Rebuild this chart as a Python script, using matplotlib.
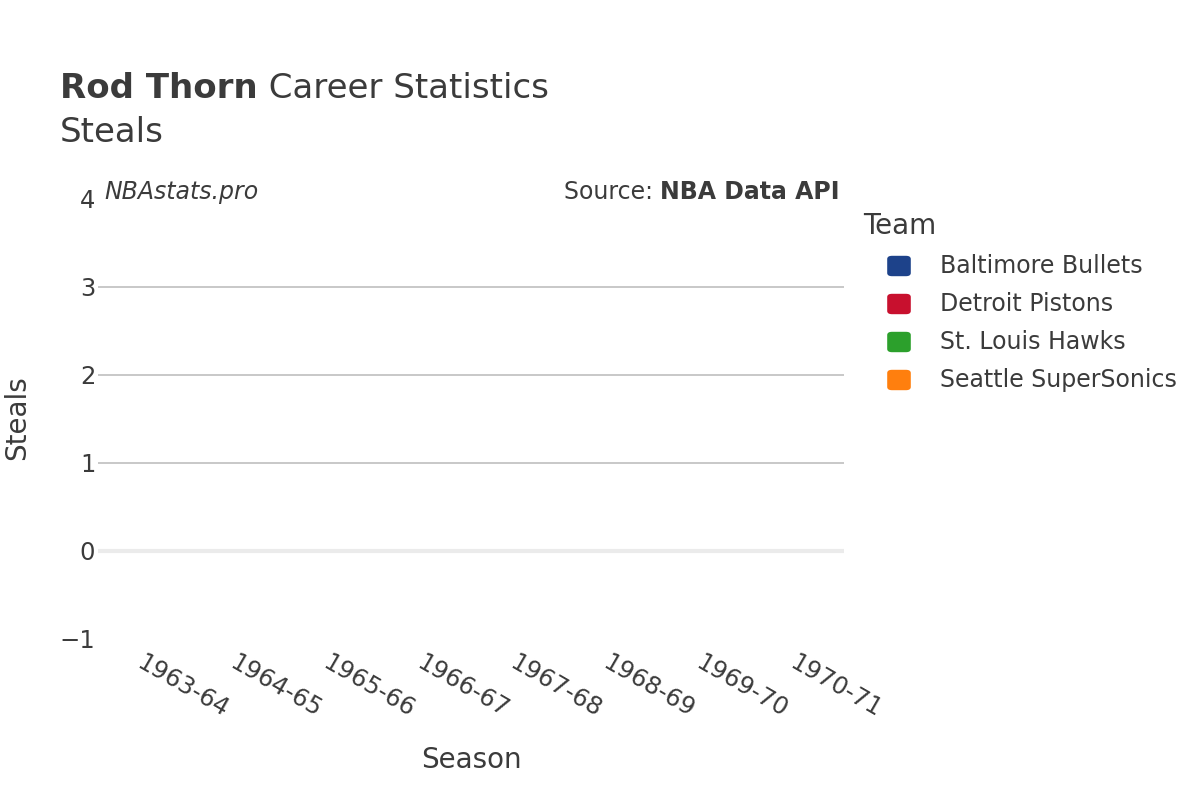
import matplotlib
matplotlib.use("Agg")
import matplotlib.pyplot as plt
from matplotlib.patches import FancyBboxPatch
import numpy as np

plt.rcParams["font.family"] = ["DejaVu Sans"]

seasons = ["1963-64", "1964-65", "1965-66", "1966-67", "1967-68", "1968-69", "1969-70", "1970-71"]
teams = ["Baltimore Bullets", "Detroit Pistons", "St. Louis Hawks", "Seattle SuperSonics"]
team_colors = ["#1d428a", "#c8102e", "#2ca02c", "#ff7f0e"]
# Steals were not recorded in these seasons: no values are drawn
steals = {t: [np.nan] * len(seasons) for t in teams}
y_ticks = [-1, 0, 1, 2, 3, 4]

W, H = 1200, 800
TXT = "#3b3b3b"
fig = plt.figure(figsize=(12, 8), dpi=100)
fig.patch.set_facecolor("white")

def fx(px):
    return px / W

def fy(py):
    return 1 - py / H

ax = fig.add_axes([fx(98), fy(639), fx(844) - fx(98), fy(199) - fy(639)])
ax.set_xlim(-0.5, len(seasons) - 0.5)
ax.set_ylim(-1, 4)
for t, c in zip(teams, team_colors):
    ax.plot(range(len(seasons)), steals[t], color=c)

for s in ax.spines.values():
    s.set_visible(False)
ax.set_yticks(y_ticks)
ax.set_yticklabels(["\u22121" if v < 0 else str(v) for v in y_ticks])
for v in y_ticks:
    if v == 0:
        ax.axhline(v, color="#ebebeb", lw=3, zorder=0)
    elif -1 < v < 4:
        ax.axhline(v, color="#c4c4c4", lw=1.3, zorder=0)
ax.tick_params(axis="y", length=0, pad=2, labelsize=17.5, labelcolor=TXT)
ax.set_xticks(range(len(seasons)))
ax.set_xticklabels(seasons, rotation=-30, ha="left", va="top", rotation_mode="anchor")
ax.tick_params(axis="x", length=0, pad=8, labelsize=17.5, labelcolor=TXT)

fig.text(fx(17), fy(418), "Steals", rotation=90, ha="center", va="center", fontsize=20, color=TXT)
fig.text(fx(471), fy(760), "Season", ha="center", va="center", fontsize=20, color=TXT)

# Title
t1 = fig.text(fx(60), fy(88), "Rod Thorn", fontsize=24.5, fontweight="bold", color=TXT, ha="left", va="center")
fig.canvas.draw()
bb = t1.get_window_extent()
fig.text(bb.x1 / W, fy(88), " Career Statistics", fontsize=24.5, color=TXT, ha="left", va="center")
fig.text(fx(60), fy(132), "Steals", fontsize=24.5, color=TXT, ha="left", va="center")

fig.text(fx(104), fy(192), "NBAstats.pro", fontsize=17, style="italic", color=TXT, ha="left", va="center")
t2 = fig.text(fx(840), fy(192), "NBA Data API", fontsize=17, fontweight="bold", color=TXT, ha="right", va="center")
fig.canvas.draw()
bb2 = t2.get_window_extent()
fig.text(bb2.x0 / W, fy(192), "Source: ", fontsize=17, color=TXT, ha="right", va="center")

# Legend
fig.text(fx(863), fy(226), "Team", fontsize=20, color=TXT, ha="left", va="center")
for i, (t, c) in enumerate(zip(teams, team_colors)):
    yc = 266 + 38 * i
    sz = 22
    p = FancyBboxPatch((fx(899 - sz / 2 + 4), fy(yc + sz / 2 - 4)), fx(sz - 8), (sz - 8) / H,
                       boxstyle="round,pad=0.004", transform=fig.transFigure,
                       facecolor=c, edgecolor=c, lw=0)
    fig.patches.append(p)
    fig.text(fx(940), fy(yc), t, fontsize=17, color=TXT, ha="left", va="center")

fig.savefig("out.png", dpi=100)
